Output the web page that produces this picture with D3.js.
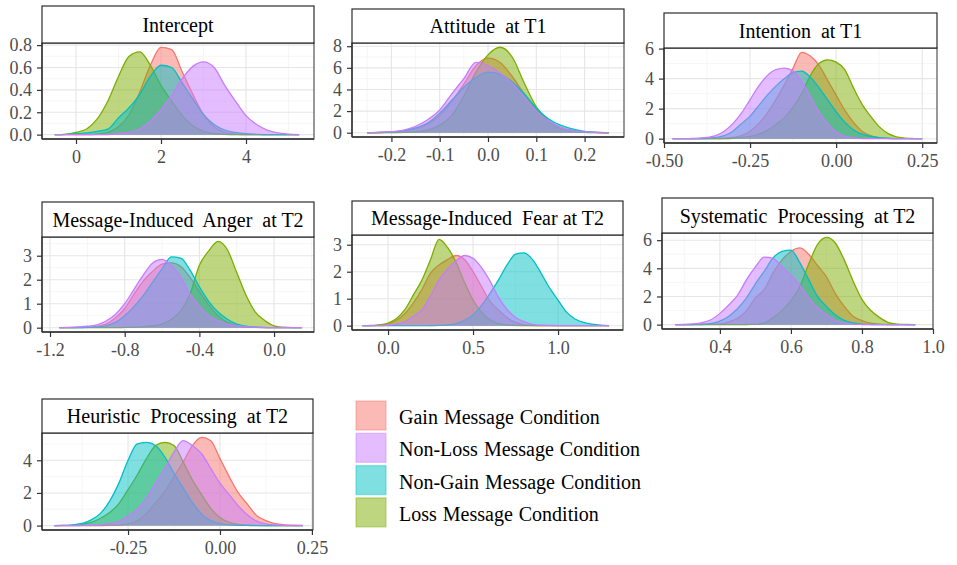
<!DOCTYPE html>
<html><head><meta charset="utf-8">
<script src="https://cdn.jsdelivr.net/npm/d3@7"></script>
<style>body{margin:0;background:#fff}svg{display:block}</style>
</head><body><svg id="c" width="957" height="565"></svg>
<script>
// ---------------- DATA ----------------
const conditions = ["Gain Message Condition","Non-Loss Message Condition","Non-Gain Message Condition","Loss Message Condition"];
const seriesKeys = ["gain","nonLoss","nonGain","loss"];
const drawOrder = ["gain","loss","nonGain","nonLoss"];
const panelTitles = ["Intercept","Attitude  at T1","Intention  at T1","Message-Induced  Anger  at T2","Message-Induced  Fear at T2","Systematic  Processing  at T2","Heuristic  Processing  at T2"];

// sampling grids [start, stop, step]
const interceptGrid = [-0.5, 5.25, 0.25];
const attitudeGrid = [-0.25, 0.25, 0.025];
const intentionGrid = [-0.475, 0.25, 0.025];
const angerGrid = [-1.15, 0.15, 0.05];
const fearGrid = [-0.15, 1.3, 0.05];
const systematicGrid = [0.275, 0.95, 0.025];
const heuristicGrid = [-0.45, 0.225, 0.025];

const interceptGain    = [0,0,0,0,0.005,0.02,0.07,0.18,0.38,0.62,0.78,0.76,0.56,0.36,0.18,0.07,0.02,0.005,0,0,0,0,0,0];
const interceptNonLoss = [0,0,0,0,0,0,0.01,0.02,0.05,0.12,0.22,0.35,0.50,0.61,0.65,0.60,0.44,0.30,0.17,0.09,0.04,0.015,0.005,0];
const interceptNonGain = [0,0.002,0.008,0.015,0.03,0.05,0.15,0.24,0.36,0.52,0.62,0.60,0.46,0.32,0.18,0.09,0.04,0.02,0.008,0.003,0,0,0,0];
const interceptLoss    = [0,0.003,0.02,0.05,0.14,0.30,0.52,0.70,0.74,0.62,0.44,0.30,0.17,0.08,0.03,0.01,0.003,0,0,0,0,0,0,0];

const attitudeGain    = [0,0.02,0.06,0.15,0.35,0.8,1.6,2.9,4.5,6.2,6.9,6.5,5.2,3.6,2.2,1.1,0.5,0.2,0.07,0.02,0];
const attitudeNonLoss = [0.01,0.04,0.1,0.25,0.6,1.2,2.1,3.6,5.0,6.5,6.2,5.5,4.6,3.3,2.0,1.1,0.5,0.2,0.08,0.03,0.01];
const attitudeNonGain = [0.01,0.03,0.08,0.2,0.45,0.9,1.8,3.0,4.2,5.1,5.6,5.4,4.7,3.6,2.3,1.3,0.7,0.35,0.12,0.04,0.01];
const attitudeLoss    = [0,0,0.01,0.03,0.1,0.25,0.7,1.6,3.4,5.6,7.2,7.9,7.0,4.6,2.4,1.1,0.4,0.15,0.04,0.01,0];

const intentionGain    = [0,0,0,0,0,0.01,0.03,0.08,0.2,0.5,1.0,1.7,2.6,3.6,4.7,5.75,5.5,4.9,3.9,2.9,1.9,1.1,0.5,0.2,0.07,0.02,0,0,0,0];
const intentionNonLoss = [0,0,0.01,0.03,0.08,0.2,0.5,1.0,1.7,2.6,3.5,4.2,4.6,4.7,4.5,3.8,2.8,1.8,1.0,0.45,0.15,0.05,0.01,0,0,0,0,0,0,0];
const intentionNonGain = [0,0,0,0.01,0.03,0.08,0.2,0.5,1.0,1.5,2.2,2.9,3.5,4.0,4.4,4.5,4.1,3.4,2.6,1.8,1.1,0.6,0.3,0.15,0.07,0.03,0.01,0,0,0];
const intentionLoss    = [0,0,0,0,0,0,0.01,0.03,0.07,0.15,0.3,0.55,0.95,1.4,2.1,3.0,4.2,5.0,5.25,5.1,4.6,3.4,2.3,1.5,0.8,0.35,0.12,0.04,0.01,0];

const angerGain    = [0,0,0.01,0.02,0.05,0.15,0.4,0.8,1.4,1.95,2.35,2.65,2.7,2.55,2.1,1.5,0.95,0.5,0.22,0.08,0.03,0.01,0,0,0,0,0];
const angerNonLoss = [0,0.01,0.03,0.06,0.12,0.28,0.55,1.0,1.6,2.2,2.7,2.85,2.6,2.1,1.4,0.9,0.5,0.28,0.15,0.08,0.04,0.02,0.01,0,0,0,0];
const angerNonGain = [0,0,0,0.01,0.03,0.08,0.22,0.5,0.88,1.35,1.9,2.45,2.95,2.9,2.4,1.7,1.1,0.65,0.35,0.15,0.06,0.02,0,0,0,0,0];
const angerLoss    = [0,0,0,0,0,0,0,0.01,0.02,0.04,0.08,0.15,0.35,0.7,1.4,2.6,3.2,3.6,3.25,2.3,1.35,0.65,0.3,0.08,0.02,0,0];

const fearGain    = [0,0,0.02,0.07,0.2,0.45,0.85,1.35,1.95,2.25,2.45,2.6,2.45,2.0,1.45,0.9,0.58,0.3,0.12,0.04,0.01,0,0,0,0,0,0,0,0,0];
const fearNonLoss = [0,0,0,0.02,0.06,0.15,0.35,0.6,1.1,1.7,2.1,2.4,2.6,2.5,2.15,1.65,1.05,0.6,0.3,0.15,0.05,0.02,0.01,0,0,0,0,0,0,0];
const fearNonGain = [0,0,0,0,0,0,0,0,0,0.01,0.03,0.08,0.2,0.4,0.75,1.2,1.7,2.25,2.65,2.7,2.45,1.95,1.4,0.95,0.5,0.25,0.12,0.06,0.02,0];
const fearLoss    = [0,0.01,0.03,0.1,0.27,0.6,1.15,1.7,2.45,3.2,2.9,2.35,1.6,0.95,0.5,0.22,0.08,0.03,0.01,0,0,0,0,0,0,0,0,0,0,0];

const systematicGain    = [0,0,0,0.01,0.02,0.05,0.2,0.45,1.0,1.9,2.5,3.7,4.6,5.2,5.45,5.0,4.2,3.4,2.2,1.3,0.6,0.28,0.1,0.03,0.01,0,0,0];
const systematicNonLoss = [0,0.01,0.05,0.15,0.35,0.8,1.4,2.1,3.2,4.1,4.8,4.7,4.1,3.5,2.8,1.9,1.2,0.7,0.3,0.12,0.04,0.01,0,0,0,0,0,0];
const systematicNonGain = [0,0,0.01,0.03,0.08,0.25,0.6,1.15,1.9,2.9,3.8,4.75,5.2,5.3,4.4,3.2,2.0,1.3,0.7,0.3,0.12,0.04,0.01,0,0,0,0,0];
const systematicLoss    = [0,0,0,0,0,0,0,0,0.01,0.02,0.12,0.5,1.0,1.7,2.7,4.3,5.7,6.2,5.8,4.6,3.1,1.8,1.0,0.5,0.15,0.04,0.01,0];

const heuristicGain    = [0,0,0,0,0,0,0.01,0.03,0.1,0.3,0.75,1.4,2.1,3.0,3.9,4.9,5.4,5.2,4.1,3.0,2.0,1.3,0.6,0.3,0.12,0.05,0.02,0.01];
const heuristicNonLoss = [0,0,0,0.01,0.02,0.05,0.12,0.25,0.6,1.0,1.7,2.6,3.5,4.5,5.2,4.9,4.4,3.5,2.6,1.9,1.2,0.65,0.27,0.1,0.04,0.01,0,0];
const heuristicNonGain = [0,0.01,0.05,0.13,0.35,0.75,1.5,2.6,4.0,5.0,5.1,4.9,4.2,3.2,2.3,1.4,0.7,0.3,0.12,0.05,0.02,0.01,0,0,0,0,0,0];
const heuristicLoss    = [0,0.01,0.03,0.08,0.2,0.45,0.8,1.35,2.2,3.1,4.1,4.9,5.1,4.9,3.9,2.8,1.9,1.05,0.5,0.2,0.08,0.03,0.01,0,0,0,0,0];

// axis domains and ticks
const xDomains = [[-0.8,5.6],[-0.2816,0.2816],[-0.5,0.293],[-1.243,0.214],[-0.212,1.382],[0.237,1.0],[-0.484,0.253]];
const xTickValues = [[0,2,4],[-0.2,-0.1,0,0.1,0.2],[-0.5,-0.25,0,0.25],[-1.2,-0.8,-0.4,0.0],[0,0.5,1.0],[0.4,0.6,0.8,1.0],[-0.25,0,0.25]];
const xTickFormats = ["d",".1f",".2f",".1f",".1f",".1f",".2f"];
const yTickValues = [[0,0.2,0.4,0.6,0.8],[0,2,4,6,8],[0,2,4,6],[0,1,2,3],[0,1,2,3],[0,2,4,6],[0,2,4]];
const yTickFormats = [".1f","d","d","d","d","d","d"];

// ---------------- STYLE / LAYOUT ----------------
const colors = {gain:"#F8766D", nonLoss:"#C77CFF", nonGain:"#00BFC4", loss:"#7CAE00"};
const layout = [
  {sx:42, sw:272, sy:6,   sh:37, ph:96},
  {sx:352,sw:272, sy:9,   sh:34, ph:94},
  {sx:664,sw:273, sy:13,  sh:35, ph:95},
  {sx:42, sw:272, sy:202, sh:35, ph:95},
  {sx:352,sw:271, sy:201, sh:34, ph:95},
  {sx:662,sw:271, sy:198, sh:35, ph:96},
  {sx:42, sw:271, sy:399, sh:34, ph:97}
];
const serif = "'Liberation Serif','DejaVu Serif',serif";

const grids = [interceptGrid,attitudeGrid,intentionGrid,angerGrid,fearGrid,systematicGrid,heuristicGrid];
const panelSeries = [
  {gain:interceptGain,nonLoss:interceptNonLoss,nonGain:interceptNonGain,loss:interceptLoss},
  {gain:attitudeGain,nonLoss:attitudeNonLoss,nonGain:attitudeNonGain,loss:attitudeLoss},
  {gain:intentionGain,nonLoss:intentionNonLoss,nonGain:intentionNonGain,loss:intentionLoss},
  {gain:angerGain,nonLoss:angerNonLoss,nonGain:angerNonGain,loss:angerLoss},
  {gain:fearGain,nonLoss:fearNonLoss,nonGain:fearNonGain,loss:fearLoss},
  {gain:systematicGain,nonLoss:systematicNonLoss,nonGain:systematicNonGain,loss:systematicLoss},
  {gain:heuristicGain,nonLoss:heuristicNonLoss,nonGain:heuristicNonGain,loss:heuristicLoss}
];

const svg = d3.select("#c");
svg.append("rect").attr("width",957).attr("height",565).attr("fill","#fff");

panelTitles.forEach((title,i)=>{
  const L = layout[i];
  const top = L.sy + L.sh, left = L.sx, w = L.sw, h = L.ph;
  const g = svg.append("g");
  const [x0,x1,st] = grids[i];
  const n = Math.round((x1-x0)/st)+1;
  const xs = d3.range(n).map(k=>x0+k*st);
  const ser = panelSeries[i];
  const m = d3.max(seriesKeys, k=>d3.max(ser[k]));
  const x = d3.scaleLinear().domain(xDomains[i]).range([left,left+w]);
  const y = d3.scaleLinear().domain([-0.05*m,1.05*m]).range([top+h,top]);

  // grid lines (minor + major)
  const xt = xTickValues[i], yt = yTickValues[i];
  const dx = xt[1]-xt[0], dy = yt[1]-yt[0];
  const xMinor = d3.range(-20,21).map(k=>xt[0]+(k+0.5)*dx).filter(v=>v>xDomains[i][0]&&v<xDomains[i][1]);
  const yMinor = d3.range(-20,21).map(k=>yt[0]+(k+0.5)*dy).filter(v=>v>y.domain()[0]&&v<y.domain()[1]);
  g.selectAll(".xm").data(xMinor).join("line").attr("x1",d=>x(d)).attr("x2",d=>x(d)).attr("y1",top).attr("y2",top+h).attr("stroke","#f0f0f0").attr("stroke-width",0.6);
  g.selectAll(".ym").data(yMinor).join("line").attr("x1",left).attr("x2",left+w).attr("y1",d=>y(d)).attr("y2",d=>y(d)).attr("stroke","#f0f0f0").attr("stroke-width",0.6);
  g.selectAll(".xM").data(xt).join("line").attr("x1",d=>x(d)).attr("x2",d=>x(d)).attr("y1",top).attr("y2",top+h).attr("stroke","#e6e6e6").attr("stroke-width",1.1);
  g.selectAll(".yM").data(yt).join("line").attr("x1",left).attr("x2",left+w).attr("y1",d=>y(d)).attr("y2",d=>y(d)).attr("stroke","#e6e6e6").attr("stroke-width",1.1);

  // densities
  const area = d3.area().x((d,k)=>x(xs[k])).y0(y(0)).y1(d=>y(d)).curve(d3.curveMonotoneX);
  const line = d3.line().x((d,k)=>x(xs[k])).y(d=>y(d)).curve(d3.curveMonotoneX);
  drawOrder.forEach(k=>{
    g.append("path").attr("d",area(ser[k])).attr("fill",colors[k]).attr("fill-opacity",0.5);
    g.append("path").attr("d",line(ser[k])).attr("fill","none").attr("stroke",colors[k]).attr("stroke-width",1.3);
  });

  // panel border
  g.append("rect").attr("x",left).attr("y",top).attr("width",w).attr("height",h).attr("fill","none").attr("stroke","#333").attr("stroke-width",1);
  g.append("line").attr("x1",left).attr("x2",left).attr("y1",top).attr("y2",top+h).attr("stroke","#333").attr("stroke-width",1.4);
  g.append("line").attr("x1",left).attr("x2",left+w).attr("y1",top+h).attr("y2",top+h).attr("stroke","#333").attr("stroke-width",1.4);

  // axes
  const fx = d3.format(xTickFormats[i]), fy = d3.format(yTickFormats[i]);
  const xAxis = d3.axisBottom(x).tickValues(xt).tickFormat(d=>fx(d).replace("\u2212","-")).tickSize(5).tickPadding(6);
  const yAxis = d3.axisLeft(y).tickValues(yt).tickFormat(d=>fy(d).replace("\u2212","-")).tickSize(5).tickPadding(5);
  const gx = g.append("g").attr("transform",`translate(0,${top+h})`).call(xAxis);
  const gy = g.append("g").attr("transform",`translate(${left},0)`).call(yAxis);
  [gx,gy].forEach(a=>{
    a.attr("font-family",serif).attr("font-size",18);
    a.select(".domain").remove();
    a.selectAll(".tick line").attr("stroke","#333").attr("stroke-width",1.2);
    a.selectAll(".tick text").attr("fill","#4d4d4d").attr("font-family",serif).attr("font-size",18);
  });

  // strip
  g.append("rect").attr("x",left).attr("y",L.sy).attr("width",w).attr("height",L.sh).attr("fill","#fff").attr("stroke","#1a1a1a").attr("stroke-width",1.1);
  g.append("text").attr("x",left+w/2).attr("y",L.sy+L.sh/2+7).attr("text-anchor","middle")
    .style("white-space","pre")
    .attr("font-family",serif).attr("font-size",20).attr("fill","#000").text(title);
});

// legend
const lg = svg.append("g").attr("transform","translate(356,401)");
const keyStep = 32.3;
conditions.forEach((c,j)=>{
  const k = seriesKeys[j];
  lg.append("rect").attr("x",0).attr("y",j*keyStep).attr("width",30).attr("height",29)
    .attr("fill",colors[k]).attr("fill-opacity",0.5).attr("stroke",colors[k]).attr("stroke-opacity",0.35).attr("stroke-width",1.5);
  lg.append("text").attr("x",43).attr("y",j*keyStep+14.5+8.5).attr("font-family",serif).attr("font-size",20)
    .style("word-spacing","1px").attr("fill","#000").text(c);
});
</script></body></html>
